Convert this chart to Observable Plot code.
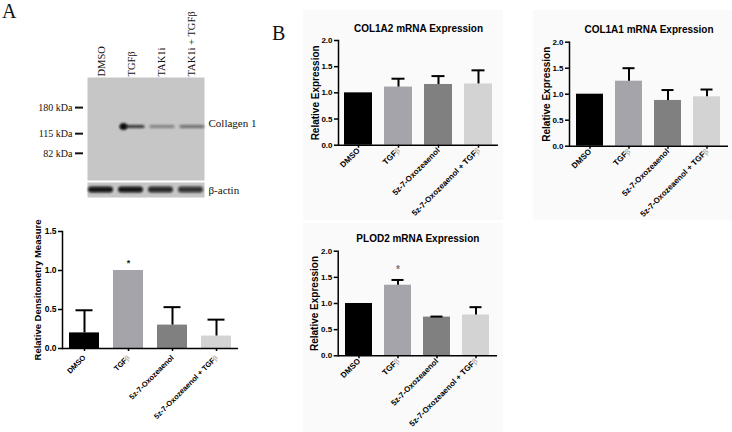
<!DOCTYPE html>
<html>
<head>
<meta charset="utf-8">
<script src="https://cdn.jsdelivr.net/npm/d3@7"></script>
<script src="https://cdn.jsdelivr.net/npm/@observablehq/plot@0.6"></script>
<style>
html, body { margin: 0; padding: 0; background: #fff; }
#fig { position: relative; width: 732px; height: 432px; overflow: hidden; background: #fff; }
.panel { position: absolute; }
.bg { position: absolute; background: #fafafa; }
.letter { position: absolute; font-family: "Liberation Serif", "Times New Roman", serif; font-size: 20px; line-height: 20px; color: #111; }
</style>
</head>
<body>
<div id="fig">
  <div class="bg" style="left:303px;top:10px;width:200px;height:210px"></div>
  <div class="bg" style="left:533px;top:10px;width:199px;height:210px"></div>
  <div class="bg" style="left:303px;top:223px;width:200px;height:209px"></div>
  <div class="letter" style="left:2px;top:1px">A</div>
  <div class="letter" style="left:272px;top:23px">B</div>
</div>
<script>
// ---------- data ----------
const treatments = ["DMSO", "TGFβ", "5z-7-Oxozeaenol", "5z-7-Oxozeaenol + TGFβ"];
const barColors = ["#000000", "#a4a4aa", "#808080", "#d3d3d3"];

const densitometryMean  = [0.20, 1.00, 0.30, 0.16];
const densitometryUpper = [0.49, 1.00, 0.53, 0.37];
const densitometrySig   = ["", "*", "", ""];
const densitometryTicks = [0, 0.5, 1.0, 1.5];

const col1a2Mean  = [1.00, 1.11, 1.16, 1.17];
const col1a2Upper = [1.00, 1.27, 1.32, 1.43];
const col1a1Mean  = [1.00, 1.25, 0.88, 0.95];
const col1a1Upper = [1.00, 1.50, 1.08, 1.09];
const plod2Mean   = [1.00, 1.35, 0.74, 0.78];
const plod2Upper  = [1.00, 1.45, 0.75, 0.93];
const plod2Sig    = ["", "*", "", ""];
const expressionTicks = [0, 0.5, 1.0, 1.5, 2.0];

// western blot
const lanes = ["DMSO", "TGFβ", "TAK1i", "TAK1i + TGFβ"];
const markerKDa = [180, 115, 82];
const collagenKDa = 130;
const collagenIntensity = [0.0, 0.8, 0.4, 0.5];
const collagenCore = [0, 1, 0, 0];
const actinIntensity = [0.95, 0.95, 0.85, 0.8];

// ---------- helpers ----------
const SANS = '"Liberation Sans", Arial, Helvetica, sans-serif';
const SERIF = '"Liberation Serif", "Times New Roman", serif';
const fig = document.getElementById("fig");

function place(node, left, top) {
  const d = document.createElement("div");
  d.className = "panel";
  d.style.left = left + "px";
  d.style.top = top + "px";
  d.appendChild(node);
  fig.appendChild(d);
}

function tintGreek(svg) {
  d3.select(svg).selectAll("text").each(function () {
    if (this.children.length) return;
    const s = this.textContent;
    if (!s.includes("β")) return;
    this.textContent = "";
    const parts = s.split("β");
    parts.forEach((p, i) => {
      if (p) d3.select(this).append("tspan").text(p);
      if (i < parts.length - 1)
        d3.select(this).append("tspan").attr("fill", "#8c8c8c").attr("font-weight", "normal")
          .attr("font-family", SERIF).text("β");
    });
  });
}

function addBlur(svg, id, sd, w, h, selector) {
  d3.select(svg).insert("defs", ":first-child").html(
    `<filter id="${id}" filterUnits="userSpaceOnUse" x="0" y="0" width="${w}" height="${h}"><feGaussianBlur stdDeviation="${sd}"/></filter>`);
  d3.select(svg).selectAll(selector).attr("filter", `url(#${id})`);
}

function barChart(o) {
  const data = treatments.map((t, i) => ({t, v: o.mean[i], hi: o.upper[i], sig: o.sig ? o.sig[i] : "", c: barColors[i]}));
  const err = data.filter(d => d.hi > d.v + 1e-9);
  const marks = [
    Plot.barY(data, {x: "t", y: "v", fill: "c"}),
    Plot.ruleX(err, {x: "t", y1: "v", y2: "hi", stroke: "black", strokeWidth: 2}),
    Plot.tickY(err, {x: "t", y: "hi", stroke: "black", strokeWidth: 2, insetLeft: o.capInset, insetRight: o.capInset}),
    Plot.ruleY([0], {stroke: "black", strokeWidth: 1.5}),
    Plot.frame({anchor: "left", stroke: "black", strokeWidth: 1.5}),
    Plot.axisY({ticks: o.ticks, tickFormat: d3.format(".1f"), tickSize: 4, tickPadding: 2, strokeWidth: 1.5, label: null, fontSize: o.yTickFont}),
    Plot.axisX({tickSize: 3, tickFormat: () => "", strokeWidth: 1.5, label: null}),
    Plot.axisX({tickSize: 0, tickRotate: -45, tickPadding: o.xPad, dx: o.xdx, label: null, fontSize: o.xFont}),
    Plot.text([o.yLabel], {frameAnchor: "left", rotate: -90, textAnchor: "middle", dx: o.yLabelDx, fontSize: o.yLabelFont})
  ];
  if (o.title) marks.push(Plot.text([o.title], {frameAnchor: "top", dy: o.titleDy, fontSize: 10}));
  if (o.sig) marks.push(Plot.text(data.filter(d => d.sig), {x: "t", y: "hi", text: "sig", dy: o.sigDy, fontSize: o.sigFont, fill: o.sigColor}));
  const svg = Plot.plot({
    width: o.width, height: o.height,
    marginLeft: o.m[0], marginRight: o.m[1], marginTop: o.m[2], marginBottom: o.m[3],
    x: {domain: treatments, paddingInner: o.padIn, paddingOuter: o.padOut, label: null},
    y: {domain: o.yDomain, label: null},
    style: {background: "transparent", overflow: "visible", fontFamily: SANS, fontWeight: "bold", fontSize: "8px", color: "black"},
    marks
  });
  tintGreek(svg);
  return svg;
}

// ---------- Panel A: western blot ----------
const laneData = lanes.map((l, i) => ({lane: l, col: collagenIntensity[i], core: collagenCore[i], actin: actinIntensity[i]}));
const blot = Plot.plot({
  width: 260, height: 180,
  marginLeft: 87, marginRight: 56, marginTop: 77, marginBottom: 0,
  x: {domain: lanes, range: [85, 207], padding: 0, label: null, axis: null},
  y: {type: "log", domain: [51.4, 302], label: null},
  style: {background: "transparent", overflow: "visible", fontFamily: SERIF, fontSize: "10px", color: "#111"},
  marks: [
    Plot.frame({fill: "#c6c6c6", stroke: "none"}),
    Plot.tickY(laneData.filter(d => d.col > 0), {x: "lane", y: () => collagenKDa, stroke: "#111", strokeOpacity: "col", strokeWidth: 3, strokeLinecap: "round", insetLeft: 5, insetRight: 3}),
    Plot.dot(laneData.filter(d => d.core > 0), {x: "lane", y: () => collagenKDa, r: 3.5, dx: -8, fill: "#0a0a0a", stroke: "none"}),
    Plot.axisY({ticks: markerKDa, tickFormat: d => `${d} kDa`, tickSize: 8, tickPadding: 3, dx: -4, strokeWidth: 2, label: null, fontSize: 10}),
    Plot.text(lanes, {x: d => d, frameAnchor: "top", rotate: -90, textAnchor: "start", lineAnchor: "middle", dy: -1, fontSize: 10.5}),
    Plot.text(["Collagen 1"], {frameAnchor: "right", y: () => collagenKDa, dx: 4, dy: -3, textAnchor: "start", fontSize: 11})
  ]
});
addBlur(blot, "blotblur", 0.9, 260, 200, 'g[aria-label="tick"], g[aria-label="dot"]');
place(blot, 0, 0);

const actin = Plot.plot({
  width: 260, height: 15,
  marginLeft: 87, marginRight: 56, marginTop: 0, marginBottom: 0,
  x: {domain: lanes, range: [85, 207], padding: 0, label: null, axis: null},
  style: {background: "transparent", overflow: "visible", fontFamily: SERIF, fontSize: "10px", color: "#111"},
  marks: [
    Plot.frame({fill: "#c6c6c6", stroke: "none"}),
    Plot.cell(laneData, {x: "lane", fill: "#0c0c0c", fillOpacity: "actin", insetTop: 4.5, insetBottom: 4.5, insetLeft: 2, insetRight: 3, rx: 3}),
    Plot.text(["β-actin"], {frameAnchor: "right", dx: 4, textAnchor: "start", fontSize: 11})
  ]
});
addBlur(actin, "actinblur", 0.8, 260, 20, 'g[aria-label="cell"]');
place(actin, 0, 182);

// ---------- Panel A: densitometry ----------
place(barChart({
  mean: densitometryMean, upper: densitometryUpper, sig: densitometrySig, sigDy: -7.5, sigFont: 9, sigColor: "#222",
  ticks: densitometryTicks, yDomain: [0, 1.5],
  width: 260, height: 222, m: [62, 22, 21, 84],
  padIn: 0.32, padOut: 0.16, capInset: 6.5,
  yLabel: "Relative Densitometry Measure", yLabelDx: -24.5, yLabelFont: 9.5,
  yTickFont: 8.5, xFont: 7.5, xPad: 8, xdx: 0
}), 0, 210);

// ---------- Panel B ----------
place(barChart({
  mean: col1a2Mean, upper: col1a2Upper, title: "COL1A2 mRNA Expression", titleDy: -16,
  ticks: expressionTicks, yDomain: [0, 2],
  width: 220, height: 220, m: [48, 12, 40, 75.3],
  padIn: 0.3, padOut: 0.15, capInset: 7.5,
  yLabel: "Relative Expression", yLabelDx: -23, yLabelFont: 10,
  yTickFont: 8, xFont: 8, xPad: 4, xdx: 0
}), 290, 0);

place(barChart({
  mean: col1a1Mean, upper: col1a1Upper, title: "COL1A1 mRNA Expression", titleDy: -16.7,
  ticks: expressionTicks, yDomain: [0, 2],
  width: 212, height: 220, m: [49, 4, 41.7, 74.3],
  padIn: 0.3, padOut: 0.15, capInset: 7.5,
  yLabel: "Relative Expression", yLabelDx: -23, yLabelFont: 10,
  yTickFont: 8, xFont: 8, xPad: 4, xdx: 0
}), 520, 0);

place(barChart({
  mean: plod2Mean, upper: plod2Upper, sig: plod2Sig, sigDy: -10, sigFont: 10, sigColor: "#777",
  title: "PLOD2 mRNA Expression", titleDy: -16.7,
  ticks: expressionTicks, yDomain: [0, 2],
  width: 220, height: 222, m: [47.7, 13, 40.7, 76.7],
  padIn: 0.3, padOut: 0.15, capInset: 7.5,
  yLabel: "Relative Expression", yLabelDx: -23, yLabelFont: 10,
  yTickFont: 8, xFont: 8, xPad: 4, xdx: 0
}), 290, 210);
</script>
</body>
</html>
